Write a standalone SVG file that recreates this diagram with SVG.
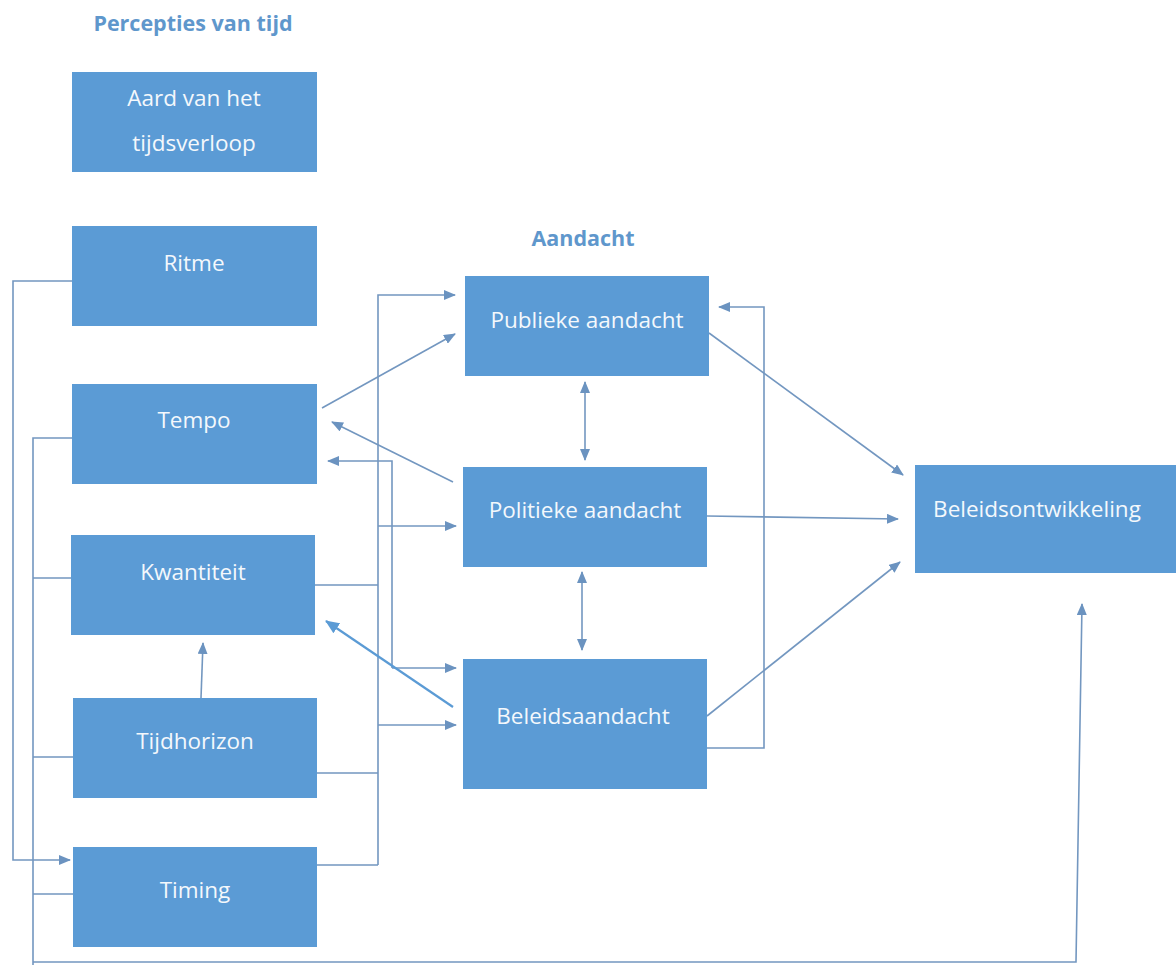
<svg xmlns="http://www.w3.org/2000/svg" width="1176" height="965" viewBox="0 0 1176 965">
<defs>
<marker id="ah" markerUnits="userSpaceOnUse" markerWidth="12" markerHeight="10" refX="11" refY="5" orient="auto-start-reverse">
<path d="M0,0 L12,5 L0,10 z" fill="#6b93c0"/>
</marker>
<marker id="ahb" markerUnits="userSpaceOnUse" markerWidth="14" markerHeight="12" refX="13" refY="6" orient="auto">
<path d="M0,0 L14,6 L0,12 z" fill="#5b9bd5"/>
</marker>
<style>
.box{fill:#5b9bd5}
.lbl{font-family:"Open Sans","Liberation Sans",sans-serif;font-size:22.5px;fill:#f4f8fc;text-anchor:middle}
.hdr{font-family:"Open Sans","Liberation Sans",sans-serif;font-size:21.5px;font-weight:bold;fill:#5f97cc;text-anchor:middle}
.c{fill:none;stroke:#7397c0;stroke-width:1.6}
.a{marker-end:url(#ah)}
.d{marker-start:url(#ah);marker-end:url(#ah)}
</style>
</defs>
<rect width="1176" height="965" fill="#ffffff"/>
<text class="hdr" x="193" y="31">Percepties van tijd</text>
<text class="hdr" x="583" y="246">Aandacht</text>
<g id="connectors">
<path class="c a" d="M72,281 H13 V860 H70"/>
<path class="c a" d="M72,438 H33 V965 M33,962 H1076 L1082,604"/>
<path class="c" d="M71,578 H33 M73,757 H33 M73,894 H33"/>
<path class="c a" d="M322,408 L455,334"/>
<path class="c a" d="M453,482 L332,422"/>
<path class="c a" d="M392,668 V461 H328"/>
<path class="c a" d="M392,668 H456"/>
<path class="c a" d="M378,865 V295 H455"/>
<path class="c a" d="M378,526 H456"/>
<path class="c a" d="M378,725 H456"/>
<path class="c" d="M315,585 H378 M317,773 H378 M317,865 H378"/>
<path class="c d" d="M585,382 V460"/>
<path class="c d" d="M582,572 V650"/>
<path fill="none" stroke="#5b9bd5" stroke-width="2.2" marker-end="url(#ahb)" d="M453,707 L326,621"/>
<path class="c a" d="M201,698 L203,643"/>
<path class="c a" d="M709,333 L903,475"/>
<path class="c a" d="M707,516 L898,519"/>
<path class="c a" d="M707,716 L900,562"/>
<path class="c a" d="M707,748 H764 V307 H719"/>
</g>
<g id="aard"><rect class="box" x="72" y="72" width="245" height="100"/><text class="lbl" x="194" y="106">Aard van het</text><text class="lbl" x="194" y="151">tijdsverloop</text></g>
<g id="ritme"><rect class="box" x="72" y="226" width="245" height="100"/><text class="lbl" x="194" y="271">Ritme</text></g>
<g id="tempo"><rect class="box" x="72" y="384" width="245" height="100"/><text class="lbl" x="194" y="428">Tempo</text></g>
<g id="kwantiteit"><rect class="box" x="71" y="535" width="244" height="100"/><text class="lbl" x="193" y="580">Kwantiteit</text></g>
<g id="tijdhorizon"><rect class="box" x="73" y="698" width="244" height="100"/><text class="lbl" x="195" y="749">Tijdhorizon</text></g>
<g id="timing"><rect class="box" x="73" y="847" width="244" height="100"/><text class="lbl" x="195" y="898">Timing</text></g>
<g id="publieke"><rect class="box" x="465" y="276" width="244" height="100"/><text class="lbl" x="587" y="328">Publieke aandacht</text></g>
<g id="politieke"><rect class="box" x="463" y="467" width="244" height="100"/><text class="lbl" x="585" y="518">Politieke aandacht</text></g>
<g id="beleidsaandacht"><rect class="box" x="463" y="659" width="244" height="130"/><text class="lbl" x="583" y="724">Beleidsaandacht</text></g>
<g id="beleidsontwikkeling"><rect class="box" x="915" y="465" width="261" height="108"/><text class="lbl" x="1037" y="517">Beleidsontwikkeling</text></g>
</svg>
